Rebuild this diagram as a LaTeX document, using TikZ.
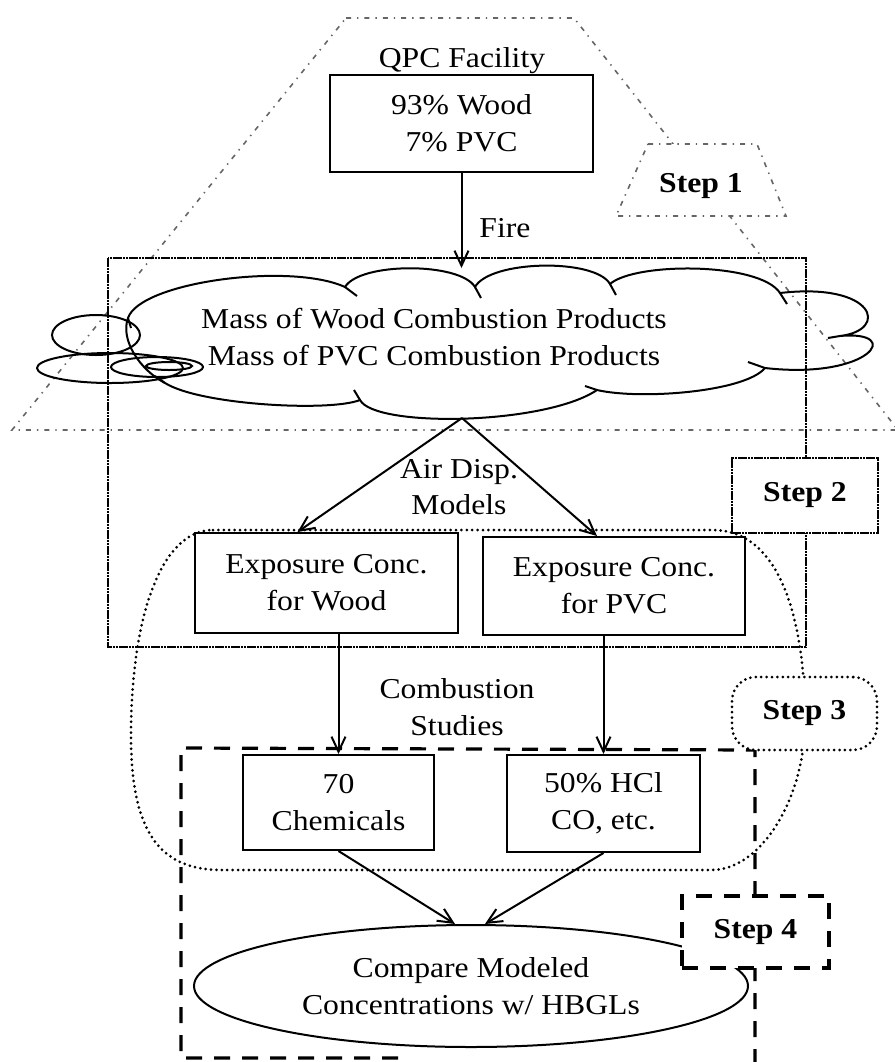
\documentclass[tikz,border=0pt]{standalone}
\usepackage{fontspec}
\setmainfont{Liberation Serif}[FakeStretch=1.1]
\usetikzlibrary{arrows.meta,shapes.geometric}

\begin{document}
\begin{tikzpicture}[x=0.5pt,y=-0.5pt,
  every node/.style={font=\fontsize{14.4}{18.4}\selectfont},
  box/.style={draw,line width=1pt,fill=white,align=center,inner sep=0pt},
  steplabel/.style={font=\fontsize{14.4}{18.4}\selectfont\bfseries,inner sep=0pt},
  stepone/.style={draw=black!60,line width=0.8pt,dash pattern=on 2.5pt off 3pt on 0.7pt off 3pt},
  steptwo/.style={draw=black,line width=1.3pt,dash pattern=on 1.3pt off 0.3pt},
  stepthree/.style={draw,line width=1.5pt,line cap=round,dash pattern=on 0pt off 2.7pt},
  stepfour/.style={draw,line width=1.6pt,dash pattern=on 8pt off 6pt},
  flow/.style={-{Straight Barb[length=7.5pt,width=7pt]},line width=1pt},
  puff/.style={draw,line width=1pt}]

    \useasboundingbox (0,0) rectangle (895,1062);

    % step regions
    \draw[stepone] (346,18) -- (574,18) -- (898,430) -- (12,430) -- cycle;
    \draw[steptwo] (108,258) rectangle (806,647);
    \draw[stepthree] (213,530) -- (713,530)
        .. controls (780,530) and (805,620) .. (805,720)
        .. controls (805,800) and (760,870) .. (712,870) -- (222,870)
        .. controls (158,870) and (131,830) .. (131,735)
        .. controls (131,620) and (160,530) .. (213,530) -- cycle;
    \draw[stepfour] (398,1058) -- (181,1058) -- (181,748) -- (755,750) -- (755,1062);

    % cloud
    \draw[puff] (128,318) .. controls (140,282) and (290,262) .. (345,287)
        .. controls (360,262) and (460,262) .. (475,287)
        .. controls (490,260) and (595,258) .. (610,284)
        .. controls (635,262) and (760,262) .. (780,293)
        .. controls (875,282) and (890,330) .. (840,336)
        .. controls (905,330) and (870,380) .. (765,368)
        .. controls (745,392) and (640,400) .. (597,390)
        .. controls (545,425) and (375,428) .. (360,400)
        .. controls (330,412) and (200,405) .. (165,383)
        .. controls (140,370) and (120,340) .. (128,318) -- cycle;
    \draw[puff] (345,287) -- (357,296) (475,287) -- (481,298)
        (610,284) -- (616,295) (780,293) -- (787,304)
        (840,336) -- (828,338) (765,368) -- (748,362)
        (597,390) -- (585,386) (360,400) -- (354,390)
        (165,383) -- (155,376) (128,318) -- (131,328);
    \draw[puff] (96,335) ellipse [x radius=22pt,y radius=10pt];
    \draw[puff] (110,368) ellipse [x radius=36.5pt,y radius=7.5pt];
    \draw[puff] (157,367) ellipse [x radius=23pt,y radius=5pt];
    \draw[puff] (169,366) ellipse [x radius=11.5pt,y radius=2pt];
    \coordinate (cloudtop) at (462,268);
    \coordinate (cloudbot) at (462,418);
    \node[align=center] (masstext) at (434,337) {Mass of Wood Combustion Products\\Mass of PVC Combustion Products};

    % boxes
    \node[anchor=base] (qpc) at (462,67) {QPC Facility};
    \node[box,minimum width=131.5pt,minimum height=48.5pt] (mix) at (461.5,123.5) {93\% Wood\\7\% PVC};
    \node[anchor=base] (fire) at (505,237) {Fire};
    \node[align=center] (airdisp) at (459,487) {Air Disp.\\Models};
    \node[box,minimum width=131.5pt,minimum height=50pt] (expwood) at (326.5,583) {Exposure Conc.\\for Wood};
    \node[box,minimum width=131pt,minimum height=49pt] (exppvc) at (614,586) {Exposure Conc.\\for PVC};
    \node[align=center] (combstud) at (457,707) {Combustion\\Studies};
    \node[box,minimum width=95.5pt,minimum height=47.5pt] (chem) at (338.5,802.5) {70\\Chemicals};
    \node[box,minimum width=96.5pt,minimum height=48.5pt] (hcl) at (603.5,803.5) {50\% HCl\\CO, etc.};
    \node[box,ellipse,minimum width=277pt,minimum height=61pt] (compare) at (471,986) {Compare Modeled\\Concentrations w/ HBGLs};

    % step labels
    \draw[stepone,fill=white] (648,144) -- (757,144) -- (786,216) -- (616,216) -- cycle;
    \node[steplabel,anchor=base] (stepa) at (701,192) {Step 1};
    \node[steplabel,steptwo,fill=white,minimum width=73pt,minimum height=37.5pt] (stepb) at (805,495.5) {Step 2};
    \node[steplabel,stepthree,fill=white,rounded corners=12pt,minimum width=72.5pt,minimum height=36.5pt] (stepc) at (804.5,713.5) {Step 3};
    \node[steplabel,stepfour,fill=white,minimum width=73.5pt,minimum height=36pt] (stepd) at (755.5,932) {Step 4};

    % arrows
    \draw[flow] (mix.south) -- (mix.south |- cloudtop);
    \draw[flow] (cloudbot) -- ([xshift=-14.5pt]expwood.north);
    \draw[flow] (cloudbot) -- ([xshift=-8.5pt]exppvc.north);
    \draw[flow] (chem.north |- expwood.south) -- (chem.north);
    \draw[flow] (hcl.north |- exppvc.south) -- (hcl.north);
    \draw[flow] (chem.south) -- ([xshift=-8pt]compare.north);
    \draw[flow] (hcl.south) -- ([xshift=7pt]compare.north);

\end{tikzpicture}
\end{document}
